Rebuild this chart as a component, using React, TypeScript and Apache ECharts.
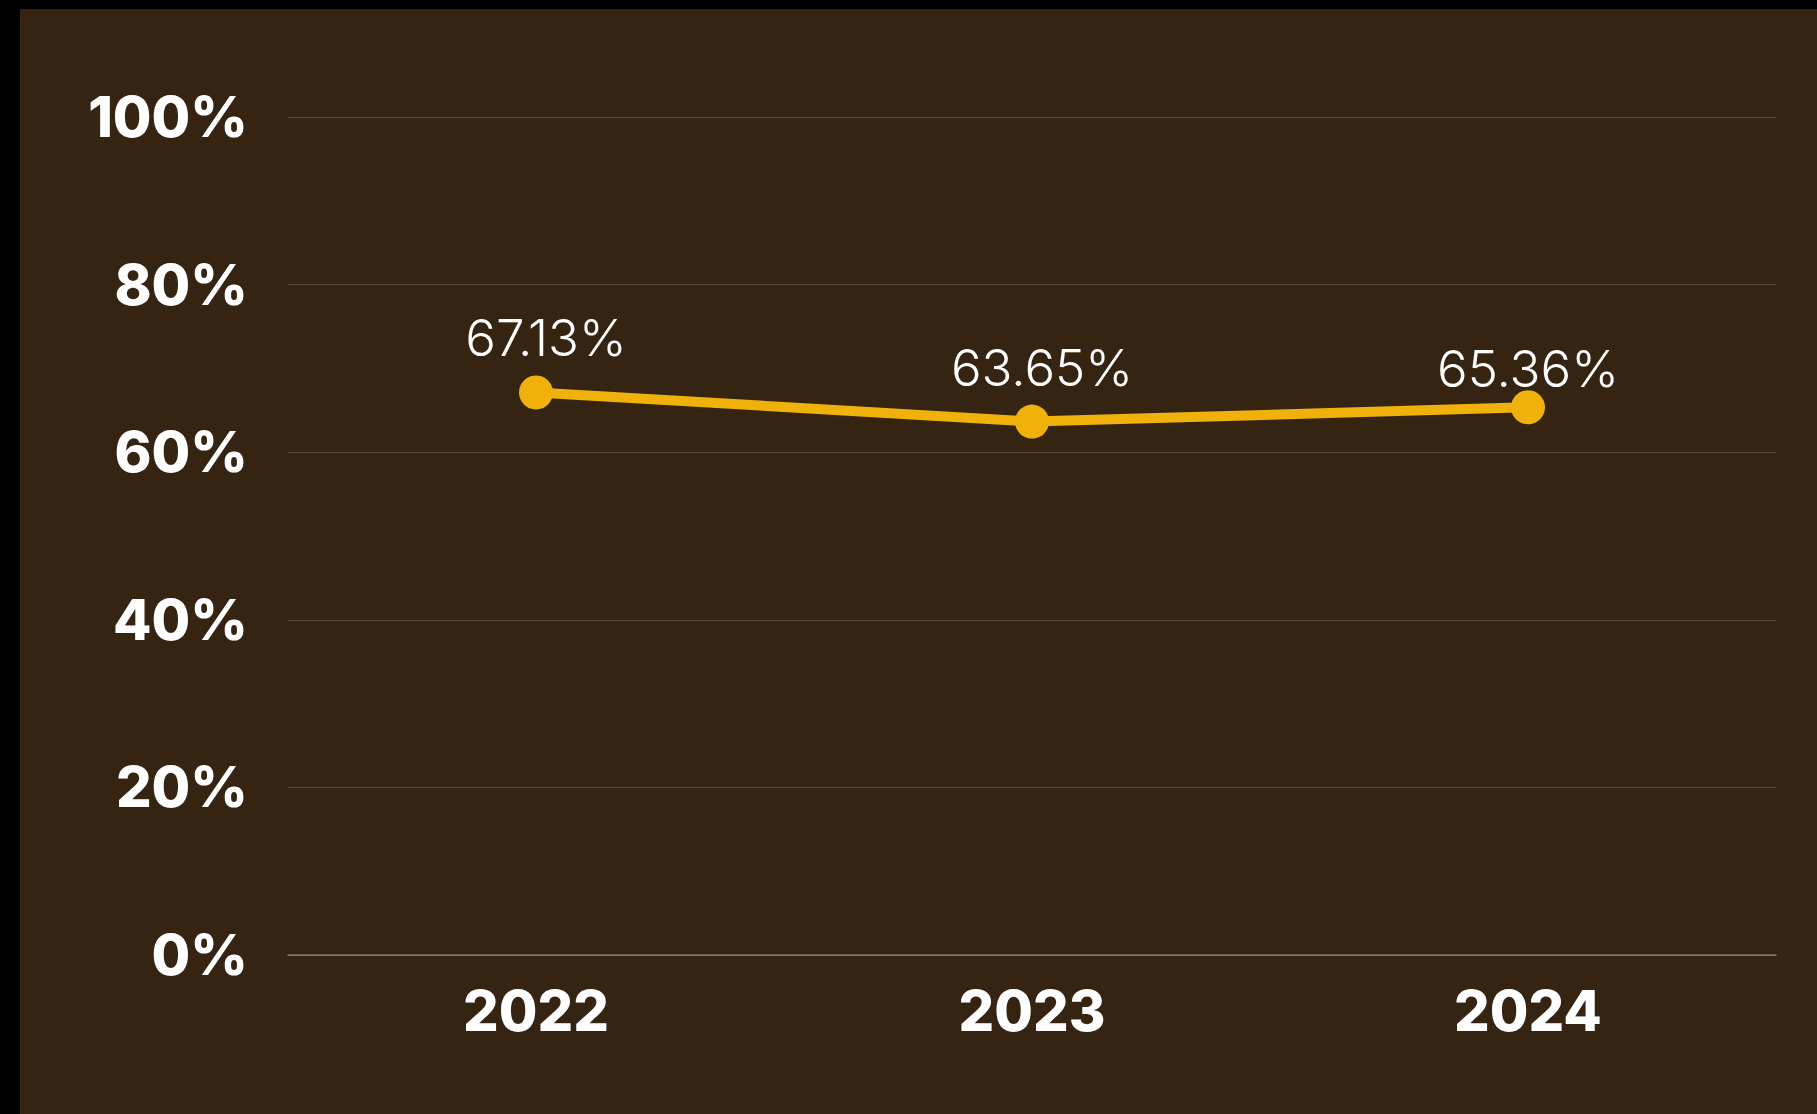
import React, { useEffect, useRef } from "react";
import * as echarts from "echarts";

const years = ["2022", "2023", "2024"];
const rates = [67.13, 63.65, 65.36];
const yTicks = [0, 20, 40, 60, 80, 100];
const labelDistance = [12, 12, -4];
const labelShiftX = [10, 10, 0];

export default function App() {
  const ref = useRef<HTMLDivElement>(null);
  useEffect(() => {
    if (!ref.current) return;
    const chart = echarts.init(ref.current, null, { renderer: "svg" });
    chart.setOption({
      animation: false,
      backgroundColor: "#352411",
      grid: { left: 268, right: 41, top: 108, bottom: 159 },
      xAxis: {
        type: "category",
        data: years,
        boundaryGap: true,
        axisLine: { show: true, lineStyle: { color: "rgba(255,255,255,0.35)", width: 1.5 } },
        axisTick: { show: false },
        axisLabel: {
          color: "#ffffff",
          fontFamily: "Inter",
          fontWeight: 800,
          fontSize: 56,
          margin: 28,
        },
      },
      yAxis: {
        type: "value",
        min: yTicks[0],
        max: yTicks[yTicks.length - 1],
        interval: 20,
        axisLine: { show: false },
        axisTick: { show: false },
        splitLine: { lineStyle: { color: "rgba(255,255,255,0.18)", width: 1 } },
        axisLabel: {
          color: "#ffffff",
          fontFamily: "Inter",
          fontWeight: 800,
          fontSize: 56,
          margin: 40,
          formatter: (v: number) => v + "%",
        },
      },
      series: [
        {
          type: "line",
          data: rates.map((v, i) => ({
            value: v,
            label: { distance: labelDistance[i], offset: [labelShiftX[i], 0] },
          })),
          symbol: "circle",
          symbolSize: 34,
          lineStyle: { color: "#F0B20A", width: 10 },
          itemStyle: { color: "#F0B20A" },
          label: {
            show: true,
            position: "top",
            color: "#ffffff",
            fontFamily: "Inter",
            fontWeight: 300,
            fontSize: 51,
            formatter: (p: any) => p.value.toFixed(2) + "%",
          },
        },
      ],
    });
    return () => chart.dispose();
  }, []);
  return (
    <div style={{ position: "fixed", left: 0, top: 0, width: 1817, height: 1114, background: "#000" }}>
      <div ref={ref} style={{ position: "absolute", left: 20, top: 9, width: 1797, height: 1105 }} />
    </div>
  );
}
